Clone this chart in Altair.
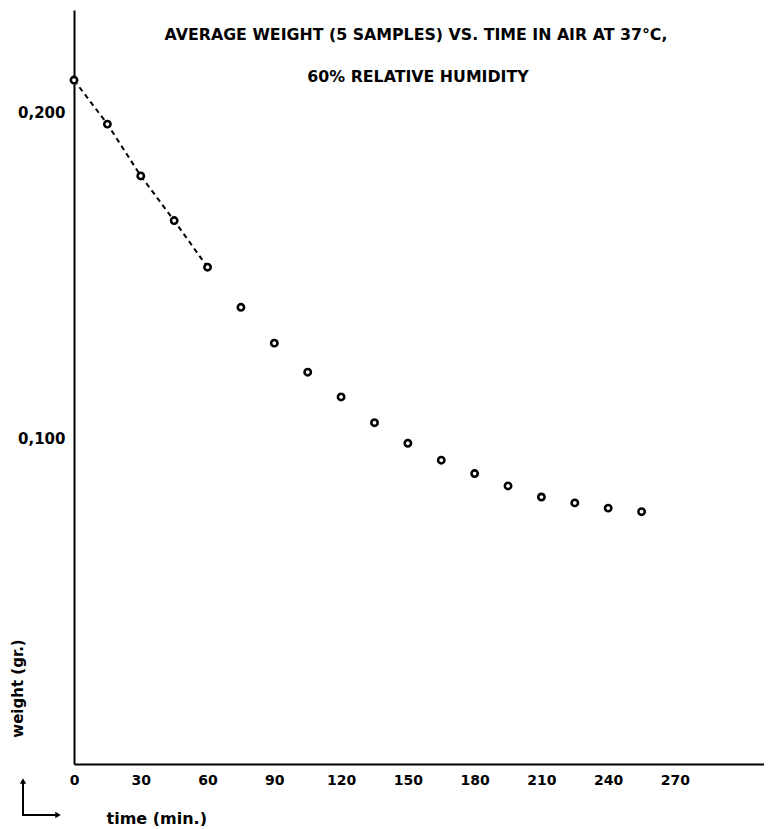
import altair as alt
import pandas as pd

# data
time_min = [0, 15, 30, 45, 60, 75, 90, 105, 120, 135, 150, 165, 180, 195, 210, 225, 240, 255]
weight_gr = [0.2098, 0.1963, 0.1804, 0.1667, 0.1524, 0.1401, 0.1291, 0.1202, 0.1126, 0.1047,
             0.0984, 0.0932, 0.0891, 0.0853, 0.0819, 0.0801, 0.0785, 0.0774]
dashed_until = 60
x_ticks = [0, 30, 60, 90, 120, 150, 180, 210, 240, 270]
y_ticks = [0.1, 0.2]
title_lines = ["AVERAGE WEIGHT (5 SAMPLES) VS. TIME IN AIR AT 37°C,", "60% RELATIVE HUMIDITY"]

df = pd.DataFrame({"time": time_min, "weight": weight_gr})
df_line = df[df["time"] <= dashed_until]

FONT = "DejaVu Sans"
W, H = 690, 754

x = alt.X("time:Q",
          scale=alt.Scale(domain=[0, 310], nice=False, zero=True),
          axis=alt.Axis(values=x_ticks, format="d", ticks=False, grid=False,
                        domainColor="black", domainWidth=2, labelFont=FONT,
                        labelFontWeight="bold", labelFontSize=14, labelColor="black",
                        labelPadding=9, labelFlush=False,
                        title="time (min.)", titleFont=FONT, titleFontWeight="bold",
                        titleFontSize=16, titleColor="black", titleAnchor="start",
                        titleAlign="left", titleX=32, titleY=54, titleBaseline="middle"))
y = alt.Y("weight:Q",
          scale=alt.Scale(domain=[0, 0.2313], nice=False, zero=True),
          axis=alt.Axis(values=y_ticks, ticks=False, grid=False,
                        labelExpr="replace(format(datum.value, '.3f'), '.', ',')",
                        domainColor="black", domainWidth=2, labelFont=FONT,
                        labelFontWeight="bold", labelFontSize=15, labelColor="black",
                        labelPadding=9,
                        title="weight (gr.)", titleFont=FONT, titleFontWeight="bold",
                        titleFontSize=15, titleColor="black", titleAngle=-90,
                        titleX=-57, titleY=678, titleAlign="center", titleBaseline="middle"))

line = alt.Chart(df_line).mark_line(color="black", strokeWidth=2, strokeDash=[5, 4]).encode(x=x, y=y)
pts = alt.Chart(df).mark_point(shape="circle", size=40, filled=False, color="black",
                               fill="white", fillOpacity=1, strokeWidth=2.6, opacity=1).encode(x=x, y=y)

t1 = alt.Chart(pd.DataFrame({"t": [title_lines[0]]})).mark_text(
    font=FONT, fontWeight="bold", fontSize=15.8, color="black", align="center", baseline="middle"
).encode(text="t:N", x=alt.value(342), y=alt.value(25))
t2 = alt.Chart(pd.DataFrame({"t": [title_lines[1]]})).mark_text(
    font=FONT, fontWeight="bold", fontSize=15.8, color="black", align="center", baseline="middle"
).encode(text="t:N", x=alt.value(344), y=alt.value(67))

# corner arrow symbol
arr_v = alt.Chart(pd.DataFrame({"a": [0]})).mark_rule(color="black", strokeWidth=2).encode(
    x=alt.value(-51), y=alt.value(771), y2=alt.value(806))
arr_h = alt.Chart(pd.DataFrame({"a": [0]})).mark_rule(color="black", strokeWidth=2).encode(
    x=alt.value(-52), x2=alt.value(-18), y=alt.value(805))
head_up = alt.Chart(pd.DataFrame({"a": [0]})).mark_point(shape="triangle-up", filled=True,
                                                         color="black", size=40, opacity=1).encode(
    x=alt.value(-51), y=alt.value(771))
head_r = alt.Chart(pd.DataFrame({"a": [0]})).mark_point(shape="triangle-right", filled=True,
                                                        color="black", size=40, opacity=1).encode(
    x=alt.value(-16), y=alt.value(805))

chart = alt.layer(line, pts, t1, t2, arr_v, arr_h, head_up, head_r).properties(
    width=W, height=H,
    padding={"left": 66, "top": 2, "right": 0, "bottom": 62},
    autosize=alt.AutoSizeParams(type="none"),
    background="white",
).configure_view(stroke=None)

chart.save("out.html", embed_options={"renderer": "svg", "actions": False})
